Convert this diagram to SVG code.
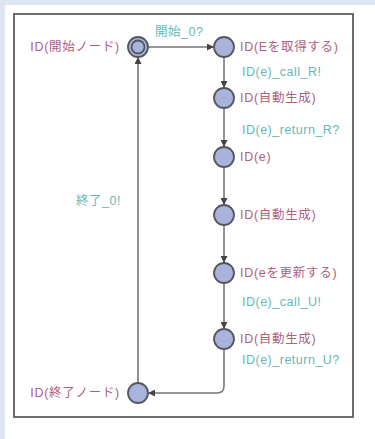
<svg xmlns="http://www.w3.org/2000/svg" width="375" height="439" viewBox="0 0 375 439">
  <defs>
    <marker id="arr" viewBox="0 0 10 10" refX="10" refY="5" markerWidth="7" markerHeight="7" markerUnits="userSpaceOnUse" orient="auto">
      <path d="M0,0 L10,5 L0,10 z" fill="#444"/>
    </marker>
  </defs>
  <style>
    .node { fill: #a9b3dc; stroke: #55575f; stroke-width: 1.8; }
    .edge { fill: none; stroke: #777; stroke-width: 1.6; marker-end: url(#arr); }
    .name { font-family: "Liberation Sans", "Noto Sans CJK JP", sans-serif; font-size: 12.5px; letter-spacing: 0.7px; fill: #b0607e; }
    .sync { font-family: "Liberation Sans", "Noto Sans CJK JP", sans-serif; font-size: 12.5px; letter-spacing: 0.5px; fill: #66b8b8; }
  </style>
  <rect x="0" y="0" width="375" height="439" fill="#dde6f1"/>
  <rect x="5" y="5" width="370" height="434" fill="#ffffff"/>
  <rect x="14" y="14" width="339" height="403" fill="#ffffff" stroke="#5e5e5e" stroke-width="1.8"/>

  <g id="connectors">
    <path class="edge" d="M148,47 L214,47"/>
    <path class="edge" d="M224,57 L224,88"/>
    <path class="edge" d="M224,108 L224,147"/>
    <path class="edge" d="M224,167 L224,205"/>
    <path class="edge" d="M224,225 L224,263"/>
    <path class="edge" d="M224,283 L224,329"/>
    <path class="edge" d="M224,349 L224,386 Q224,393 217,393 L148,393"/>
    <path class="edge" d="M138,383 L138,57"/>
  </g>

  <g id="label-start-sync"><text class="sync" x="155" y="36">開始_0?</text></g>
  <g id="label-call-R"><text class="sync" x="242" y="76">ID(e)_call_R!</text></g>
  <g id="label-return-R"><text class="sync" x="242" y="134">ID(e)_return_R?</text></g>
  <g id="label-end-sync"><text class="sync" x="76" y="205">終了_0!</text></g>
  <g id="label-call-U"><text class="sync" x="242" y="306">ID(e)_call_U!</text></g>
  <g id="label-return-U"><text class="sync" x="242" y="364">ID(e)_return_U?</text></g>

  <g id="node-start">
    <circle class="node" cx="138" cy="47" r="10"/>
    <circle class="node" cx="138" cy="47" r="6.5"/>
    <text class="name" x="120" y="51" text-anchor="end">ID(開始ノード)</text>
  </g>
  <g id="node-get">
    <circle class="node" cx="224" cy="47" r="10"/>
    <text class="name" x="240" y="51">ID(Eを取得する)</text>
  </g>
  <g id="node-auto1">
    <circle class="node" cx="224" cy="98" r="10"/>
    <text class="name" x="240" y="102">ID(自動生成)</text>
  </g>
  <g id="node-e">
    <circle class="node" cx="224" cy="157" r="10"/>
    <text class="name" x="240" y="161">ID(e)</text>
  </g>
  <g id="node-auto2">
    <circle class="node" cx="224" cy="215" r="10"/>
    <text class="name" x="240" y="219">ID(自動生成)</text>
  </g>
  <g id="node-update">
    <circle class="node" cx="224" cy="273" r="10"/>
    <text class="name" x="240" y="277">ID(eを更新する)</text>
  </g>
  <g id="node-auto3">
    <circle class="node" cx="224" cy="339" r="10"/>
    <text class="name" x="240" y="343">ID(自動生成)</text>
  </g>
  <g id="node-end">
    <circle class="node" cx="138" cy="393" r="10"/>
    <text class="name" x="120" y="397" text-anchor="end">ID(終了ノード)</text>
  </g>
</svg>
